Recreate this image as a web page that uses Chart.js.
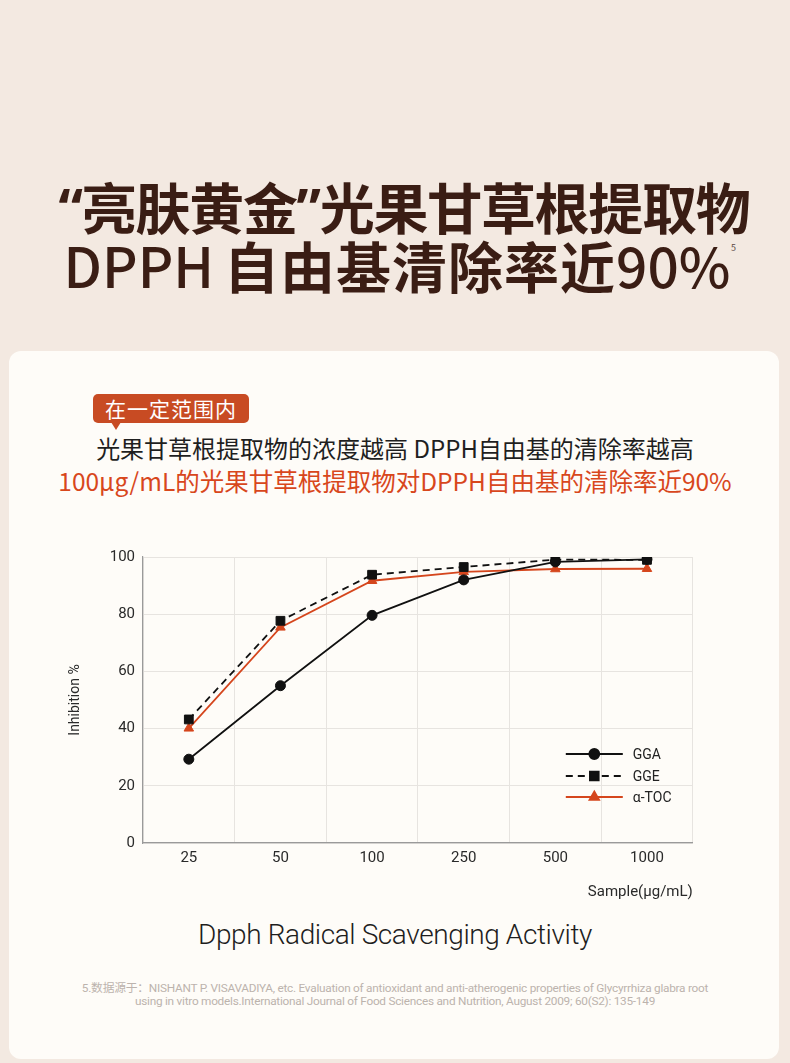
<!DOCTYPE html>
<html>
<head>
<meta charset="utf-8">
<script src="https://cdn.jsdelivr.net/npm/chart.js@4/dist/chart.umd.min.js"></script>
<style>
  html, body { margin: 0; padding: 0; }
  body { width: 790px; height: 1063px; background: #f3e9e1; position: relative; overflow: hidden;
         font-family: "Noto Sans CJK SC", "Noto Sans", sans-serif; }
  .abs { position: absolute; }
  .title { width: 790px; text-align: center; color: #3a1d14; font-weight: 700;
           font-size: 55px; line-height: 59px; letter-spacing: -1.3px; white-space: nowrap; }
  .title .q { font-family: "Noto Sans", sans-serif; }
  .title .lat { font-weight: 500; letter-spacing: 0; }
  .sup { font-size: 9px; color: #5a4a44; }
  .card { left: 9px; top: 351px; width: 770px; height: 708px; background: #fefcf8; border-radius: 12px; }
  .tag { left: 93px; top: 394px; width: 156px; height: 29px; background: #c84b23; border-radius: 5px;
         color: #fff; font-size: 21px; line-height: 29px; text-align: center; letter-spacing: 1px; }
  .tag:after { content: ""; position: absolute; left: 18px; top: 28px; border-left: 5px solid transparent;
               border-right: 5px solid transparent; border-top: 8px solid #c84b23; }
  .line1 { left: 0; width: 790px; top: 433px; text-align: center; color: #1f1f1f; font-size: 24px; line-height: 30px; white-space: nowrap; }
  .line2 { left: 0; width: 790px; top: 466px; text-align: center; color: #d8471c; font-size: 24.5px; line-height: 30px; white-space: nowrap; }
  .caption { left: 0; width: 790px; top: 917px; text-align: center; color: #1e1e1e; font-family: Roboto, "Liberation Sans", sans-serif;
             font-weight: 300; font-size: 28px; line-height: 36px; letter-spacing: -0.4px; }
  .note { left: 0; width: 790px; top: 982px; text-align: center; color: #bcb3ad; font-family: Roboto, "Noto Sans CJK SC", sans-serif;
          font-size: 11.8px; line-height: 12.5px; letter-spacing: -0.25px; }
  #wrap { left: 60px; top: 540px; width: 640px; height: 368px; }
</style>
</head>
<body>
<div class="abs title" style="left:9px; top:176px;"><span class="q">“</span>亮肤黄金<span class="q">”</span>光果甘草根提取物</div>
<div class="abs title" style="left:2px; top:235px; letter-spacing:1px;"><span class="lat" style="margin-right:10px;">DPPH</span>自由基清除率近<span class="lat">90%</span></div>
<div class="abs sup" style="left:731px; top:241px;">5</div>

<div class="abs card"></div>
<div class="abs tag">在一定范围内</div>
<div class="abs line1">光果甘草根提取物的浓度越高 DPPH自由基的清除率越高</div>
<div class="abs line2">100μg/mL的光果甘草根提取物对DPPH自由基的清除率近90%</div>

<div class="abs" id="wrap"><canvas id="c"></canvas></div>

<div class="abs caption">Dpph Radical Scavenging Activity</div>
<div class="abs note">5.数据源于：NISHANT P. VISAVADIYA, etc. Evaluation of antioxidant and anti-atherogenic properties of Glycyrrhiza glabra root<br>using in vitro models.International Journal of Food Sciences and Nutrition, August 2009; 60(S2): 135-149</div>

<script>
// 剂量 (μg/mL)
const doses = ['25', '50', '100', '250', '500', '1000'];
// 清除率 %
const ggaValues = [29.3, 55, 79.6, 92, 98.3, 99.2];
const ggeValues = [43.2, 77.7, 93.8, 96.5, 99.1, 99];
const tocValues = [40.1, 75.4, 91.7, 94.8, 95.8, 95.9];
const yTicks = [0, 20, 40, 60, 80, 100];

const red = '#d5461d';
const fam = 'Roboto, "Liberation Sans", sans-serif';
const tickFont = { family: fam, size: 15 };

// legend inside the plot, lower right
const innerLegend = {
  id: 'innerLegend',
  afterDraw(chart) {
    const { ctx, chartArea } = chart;
    const rows = [chartArea.bottom - 89, chartArea.bottom - 67, chartArea.bottom - 46];
    chart.data.datasets.forEach((ds, i) => {
      const y = rows[i];
      const x0 = chartArea.right - 127, x1 = chartArea.right - 70;
      ctx.save();
      ctx.strokeStyle = ds.borderColor;
      ctx.lineWidth = ds.borderWidth;
      ctx.setLineDash(ds.borderDash || []);
      ctx.beginPath();
      ctx.moveTo(x0, y);
      ctx.lineTo(x1, y);
      ctx.stroke();
      ctx.setLineDash([]);
      ctx.fillStyle = ds.pointBackgroundColor;
      ctx.strokeStyle = ds.borderColor;
      Chart.helpers.drawPoint(ctx, { pointStyle: ds.pointStyle, radius: ds.pointRadius, rotation: 0, borderWidth: 1 }, (x0 + x1) / 2, y);
      ctx.fillStyle = '#222';
      ctx.font = '14px ' + fam;
      ctx.textBaseline = 'middle';
      ctx.fillText(ds.label, chartArea.right - 60, y + 1);
      ctx.restore();
    });
  }
};

new Chart(document.getElementById('c'), {
  type: 'line',
  data: {
    labels: doses,
    datasets: [
      { label: 'GGA', data: ggaValues, borderColor: '#111', backgroundColor: '#111', pointBackgroundColor: '#111',
        borderWidth: 1.8, pointStyle: 'circle', pointRadius: 5, pointBorderWidth: 1 },
      { label: 'GGE', data: ggeValues, borderColor: '#111', backgroundColor: '#111', pointBackgroundColor: '#111',
        borderWidth: 1.8, borderDash: [7, 5], pointStyle: 'rect', pointRadius: 6.2, pointBorderWidth: 1 },
      { label: 'α-TOC', data: tocValues, borderColor: red, backgroundColor: red, pointBackgroundColor: red,
        borderWidth: 1.8, pointStyle: 'triangle', pointRadius: 5.5, pointBorderWidth: 1 }
    ]
  },
  options: {
    responsive: true,
    maintainAspectRatio: false,
    animation: false,
    layout: { padding: { top: 17, right: 7, left: 0, bottom: 0 } },
    plugins: {
      legend: { display: false },
      tooltip: { enabled: false }
    },
    scales: {
      x: {
        offset: true,
        grid: { offset: true, color: '#e7e4e0', drawTicks: false },
        border: { color: '#9a9a9a', width: 1.2 },
        ticks: { color: '#2a2a2a', font: tickFont, padding: 6 },
        title: { display: true, text: 'Sample(μg/mL)', align: 'end', color: '#2a2a2a',
                 font: tickFont, padding: { top: 0, bottom: 7 } },
        afterFit(s) { s.height = 65; }
      },
      y: {
        min: 0, max: 100,
        afterBuildTicks(s) { s.ticks = yTicks.map(v => ({ value: v })); },
        grid: { color: '#e7e4e0', drawTicks: false },
        border: { color: '#9a9a9a', width: 1.2 },
        ticks: { color: '#2a2a2a', font: tickFont, padding: 8 },
        title: { display: true, text: 'Inhibition %', color: '#2a2a2a',
                 font: { family: fam, size: 14 }, padding: { top: 7, bottom: 0 } },
        afterFit(s) { s.width = 83; }
      }
    }
  },
  plugins: [innerLegend]
});
</script>
</body>
</html>
